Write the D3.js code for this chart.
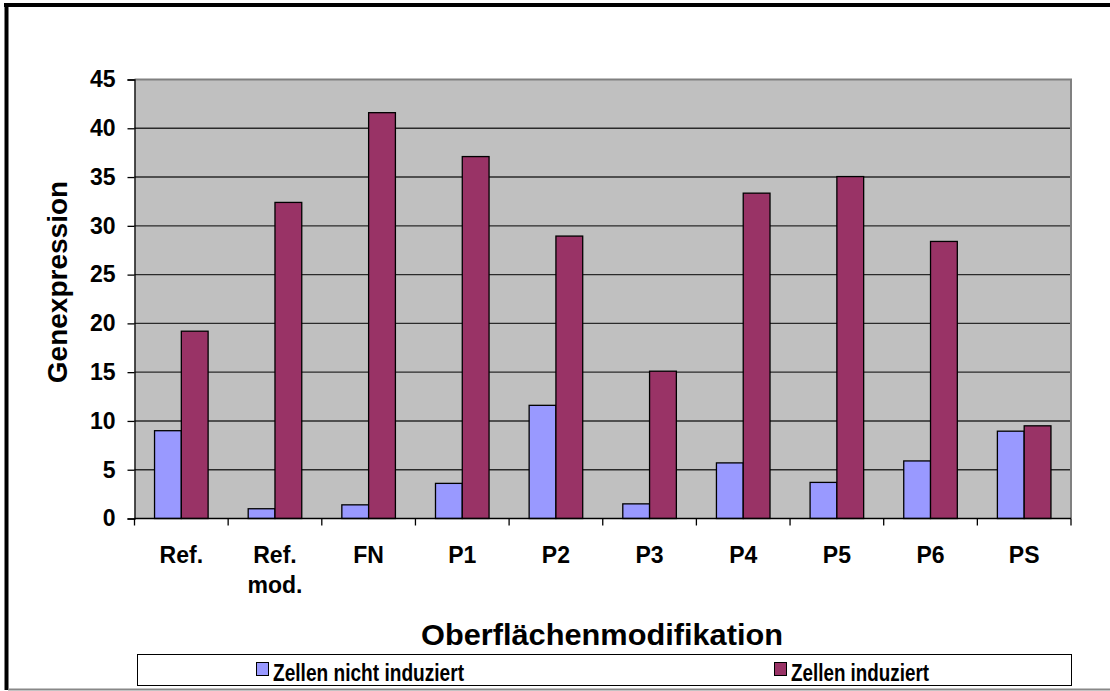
<!DOCTYPE html>
<html>
  <head>
    <meta charset="utf-8">
    <title>Genexpression</title>
    <style type="text/css">
        body { margin: 0; background: #fff; }
        svg text { font-family: "Liberation Sans", Arial, sans-serif; font-weight: bold; fill: #000; }
    </style>
  </head>
  <body>
    <svg width="1110" height="691"></svg>

    <script src="https://d3js.org/d3.v7.min.js"></script>
    <script>

    // Data
    var categories = ["Ref.", "Ref.\nmod.", "FN", "P1", "P2", "P3", "P4", "P5", "P6", "PS"];
    var seriesNames = ["Zellen nicht induziert", "Zellen induziert"];
    var notInduced = [9.0, 1.0, 1.4, 3.6, 11.6, 1.5, 5.7, 3.7, 5.9, 8.95];
    var induced = [19.2, 32.4, 41.6, 37.1, 28.95, 15.1, 33.35, 35.05, 28.4, 9.5];
    var yTicks = [0, 5, 10, 15, 20, 25, 30, 35, 40, 45];
    var colors = ["#9999ff", "#993366"];

    var svg = d3.select("svg");

    // outer frame (clipped on the right)
    svg.append("line").attr("x1", 6.5).attr("x2", 6.5).attr("y1", 3).attr("y2", 690)
        .attr("stroke", "#000").attr("stroke-width", 4);
    svg.append("line").attr("x1", 4).attr("x2", 1110).attr("y1", 5).attr("y2", 5)
        .attr("stroke", "#000").attr("stroke-width", 4);
    svg.append("line").attr("x1", 8).attr("x2", 1110).attr("y1", 689.5).attr("y2", 689.5)
        .attr("stroke", "#888").attr("stroke-width", 2);

    var plotLeft = 134.5, plotRight = 1071, plotTop = 79.5, plotBottom = 518.5;

    var x = d3.scaleBand()
        .domain(d3.range(categories.length))
        .range([plotLeft, plotRight]);

    var xSub = d3.scaleBand()
        .domain([0, 1])
        .range([x.bandwidth() * 0.214, x.bandwidth() * 0.786]);

    var y = d3.scaleLinear()
        .domain([0, 45])
        .range([plotBottom, plotTop]);

    // plot background
    svg.append("rect")
        .attr("x", plotLeft).attr("y", plotTop)
        .attr("width", plotRight - plotLeft).attr("height", plotBottom - plotTop)
        .attr("fill", "#c0c0c0");

    // gridlines
    svg.append("g").selectAll("line")
        .data(yTicks.filter(function(d) { return d > 0 && d < 45; }))
        .enter().append("line")
        .attr("x1", plotLeft).attr("x2", plotRight)
        .attr("y1", function(d) { return y(d); })
        .attr("y2", function(d) { return y(d); })
        .attr("stroke", "#2a2a2a")
        .attr("stroke-width", 1.4);

    // plot border top/right
    svg.append("path")
        .attr("d", "M" + plotLeft + "," + plotTop + "H" + plotRight + "V" + plotBottom)
        .attr("fill", "none")
        .attr("stroke", "#808080")
        .attr("stroke-width", 2);

    // bars
    var data = [notInduced, induced];
    data.forEach(function(vals, s) {
        svg.append("g").selectAll("rect")
            .data(vals)
            .enter().append("rect")
            .attr("x", function(d, i) { return x(i) + xSub(s); })
            .attr("y", function(d) { return y(d); })
            .attr("width", xSub.bandwidth())
            .attr("height", function(d) { return y(0) - y(d); })
            .attr("fill", colors[s])
            .attr("stroke", "#000")
            .attr("stroke-width", 1.3);
    });

    // y axis
    var yAxis = svg.append("g")
        .attr("transform", "translate(" + plotLeft + ",0)")
        .call(d3.axisLeft(y).tickValues(yTicks).tickSize(7).tickPadding(12));
    yAxis.select(".domain").attr("stroke", "#000").attr("stroke-width", 1.3);
    yAxis.selectAll(".tick line").attr("stroke", "#000").attr("stroke-width", 1.3);
    yAxis.selectAll("text")
        .attr("font-size", 23)
        .attr("font-family", "Liberation Sans, Arial, sans-serif")
        .attr("font-weight", "bold")
        .attr("fill", "#000");

    // x axis line and ticks at category boundaries
    var xg = svg.append("g");
    xg.append("line").attr("x1", plotLeft).attr("x2", plotRight)
        .attr("y1", plotBottom).attr("y2", plotBottom)
        .attr("stroke", "#000").attr("stroke-width", 1.3);
    xg.selectAll("line.tk")
        .data(d3.range(categories.length + 1))
        .enter().append("line")
        .attr("class", "tk")
        .attr("x1", function(i) { return plotLeft + i * x.step(); })
        .attr("x2", function(i) { return plotLeft + i * x.step(); })
        .attr("y1", plotBottom).attr("y2", plotBottom + 7)
        .attr("stroke", "#000").attr("stroke-width", 1.3);

    // category labels
    var labels = xg.selectAll("text.cat")
        .data(categories)
        .enter().append("text")
        .attr("class", "cat")
        .attr("text-anchor", "middle")
        .attr("font-size", 23)
        .attr("y", 563);
    labels.each(function(d, i) {
        var t = d3.select(this);
        d.split("\n").forEach(function(part, k) {
            t.append("tspan")
                .attr("x", x(i) + x.bandwidth() / 2)
                .attr("dy", k === 0 ? 0 : 30)
                .text(part);
        });
    });

    // axis titles
    svg.append("text")
        .attr("transform", "translate(67,282) rotate(-90)")
        .attr("text-anchor", "middle")
        .attr("font-size", 28)
        .text("Genexpression");

    svg.append("text")
        .attr("x", 602)
        .attr("y", 645)
        .attr("text-anchor", "middle")
        .attr("font-size", 30)
        .attr("textLength", 362)
        .attr("lengthAdjust", "spacingAndGlyphs")
        .text("Oberflächenmodifikation");

    // legend
    var lg = svg.append("g");
    lg.append("rect")
        .attr("x", 137.5).attr("y", 654.5)
        .attr("width", 934).attr("height", 31)
        .attr("fill", "#fff")
        .attr("stroke", "#000")
        .attr("stroke-width", 1);

    var legendX = [256, 774];
    var legendLen = [191, 138];
    seriesNames.forEach(function(name, s) {
        lg.append("rect")
            .attr("x", legendX[s] + 0.5).attr("y", 662.5)
            .attr("width", 12).attr("height", 13)
            .attr("fill", colors[s])
            .attr("stroke", "#000")
            .attr("stroke-width", 1);
        lg.append("text")
            .attr("x", legendX[s] + 17)
            .attr("y", 680.5)
            .attr("font-size", 24)
            .attr("textLength", legendLen[s])
            .attr("lengthAdjust", "spacingAndGlyphs")
            .text(name);
    });

    </script>
  </body>
</html>
